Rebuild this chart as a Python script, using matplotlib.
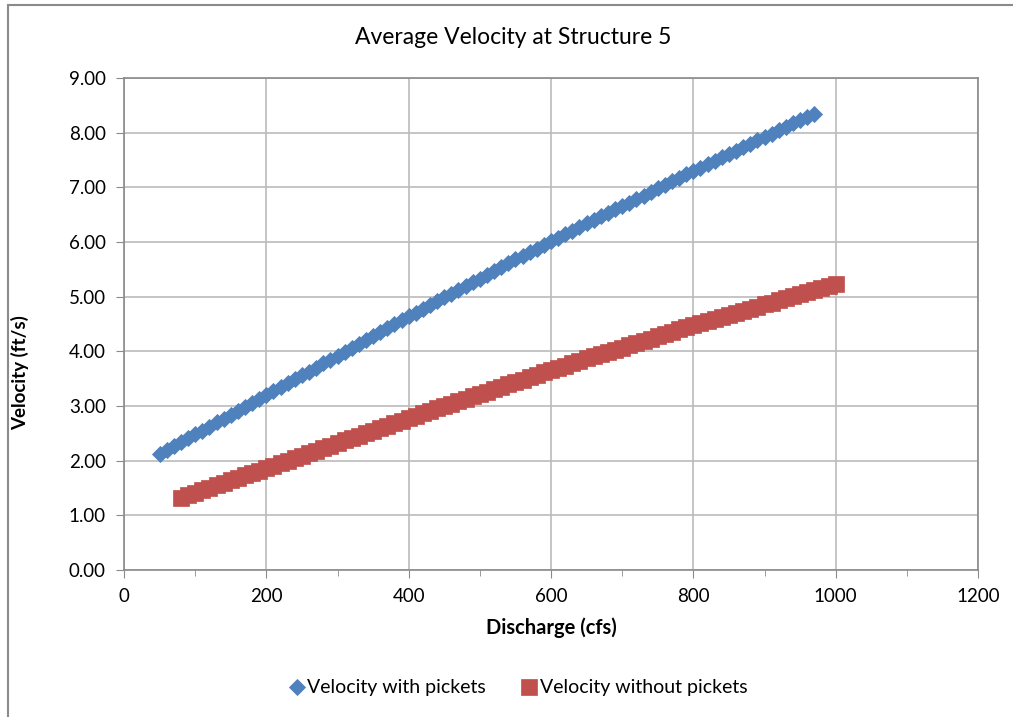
import matplotlib
matplotlib.use("Agg")
import matplotlib.pyplot as plt
from matplotlib.patches import Rectangle
from matplotlib.ticker import MultipleLocator, FormatStrFormatter

# discharge (cfs) and average velocity (ft/s)
q_with = list(range(50, 980, 10))
v_with = [2.12, 2.19, 2.26, 2.34, 2.41, 2.48, 2.55, 2.62, 2.70, 2.77,
          2.84, 2.91, 2.98, 3.06, 3.13, 3.20, 3.27, 3.34, 3.42, 3.49,
          3.56, 3.63, 3.70, 3.78, 3.85, 3.92, 3.99, 4.06, 4.14, 4.21,
          4.28, 4.35, 4.42, 4.50, 4.57, 4.64, 4.71, 4.78, 4.85, 4.92,
          4.99, 5.05, 5.12, 5.19, 5.26, 5.33, 5.40, 5.47, 5.54, 5.61,
          5.68, 5.74, 5.81, 5.88, 5.95, 6.02, 6.08, 6.15, 6.21, 6.28,
          6.34, 6.40, 6.47, 6.53, 6.60, 6.66, 6.72, 6.79, 6.85, 6.92,
          6.98, 7.04, 7.11, 7.17, 7.24, 7.30, 7.36, 7.42, 7.49, 7.55,
          7.61, 7.67, 7.73, 7.80, 7.86, 7.92, 7.98, 8.04, 8.10, 8.17,
          8.23, 8.29, 8.35]

q_without = list(range(80, 1010, 10))
v_without = [1.32, 1.37, 1.41, 1.46, 1.50, 1.55, 1.59, 1.64, 1.68, 1.73,
             1.77, 1.82, 1.86, 1.91, 1.95, 2.00, 2.04, 2.09, 2.14, 2.18,
             2.23, 2.27, 2.32, 2.37, 2.41, 2.46, 2.50, 2.55, 2.60, 2.64,
             2.69, 2.73, 2.78, 2.82, 2.87, 2.91, 2.96, 3.00, 3.04, 3.09,
             3.13, 3.18, 3.22, 3.26, 3.31, 3.35, 3.40, 3.44, 3.48, 3.53,
             3.57, 3.62, 3.66, 3.70, 3.74, 3.78, 3.82, 3.87, 3.91, 3.95,
             3.99, 4.03, 4.07, 4.11, 4.15, 4.19, 4.23, 4.28, 4.32, 4.36,
             4.40, 4.44, 4.48, 4.52, 4.56, 4.59, 4.63, 4.67, 4.71, 4.74,
             4.78, 4.82, 4.86, 4.89, 4.93, 4.97, 5.01, 5.04, 5.08, 5.12,
             5.16, 5.19, 5.23]

plt.rcParams['font.family'] = ['Lato', 'DejaVu Sans']

fig = plt.figure(figsize=(10.13, 7.17), dpi=100)
ax = fig.add_axes([124 / 1013, 1 - 570 / 717, 854 / 1013, 492 / 717])

ax.plot(q_with, v_with, linestyle='none', marker='D', markersize=8,
        color='#4F81BD', markeredgewidth=0.6, label='Velocity with pickets', zorder=3)
ax.plot(q_without, v_without, linestyle='none', marker='s', markersize=11,
        color='#C0504D', markeredgewidth=0.5, label='Velocity without pickets', zorder=3)

ax.set_xlim(0, 1200)
ax.set_ylim(0, 9)
ax.xaxis.set_major_locator(MultipleLocator(200))
ax.xaxis.set_minor_locator(MultipleLocator(100))
ax.yaxis.set_major_locator(MultipleLocator(1))
ax.yaxis.set_major_formatter(FormatStrFormatter('%.2f'))
ax.grid(True, which='major', color='#BBBBBB', linewidth=1.2)
ax.set_axisbelow(True)
for s in ax.spines.values():
    s.set_color('#8A8A8A')
    s.set_linewidth(1.2)
ax.tick_params(which='major', length=6, color='#8A8A8A', labelsize=13.5, pad=7)
ax.tick_params(axis='x', which='minor', length=4, color='#8A8A8A')

fig.text(513 / 1013, 1 - 38 / 717, 'Average Velocity at Structure 5',
         fontsize=16.5, ha='center', va='center')
ax.set_xlabel('Discharge (cfs)', fontsize=14.5, fontweight='bold', labelpad=9)
fig.text(20 / 1013, 1 - 373 / 717, 'Velocity (ft/s)', fontsize=13.5,
         fontweight='bold', rotation=90, ha='center', va='center')

fig.legend(loc='center', bbox_to_anchor=(517 / 1013, 1 - 688 / 717), ncol=2,
           frameon=False, fontsize=14, columnspacing=1.7, handletextpad=0.05,
           handlelength=1.0)

fig.patches.append(Rectangle((8 / 1013, -0.1), 1.2, 1.1 - 5 / 717,
                             transform=fig.transFigure, fill=False,
                             edgecolor='#8A8A8A', linewidth=1.5))

fig.savefig('out.png', dpi=100)
